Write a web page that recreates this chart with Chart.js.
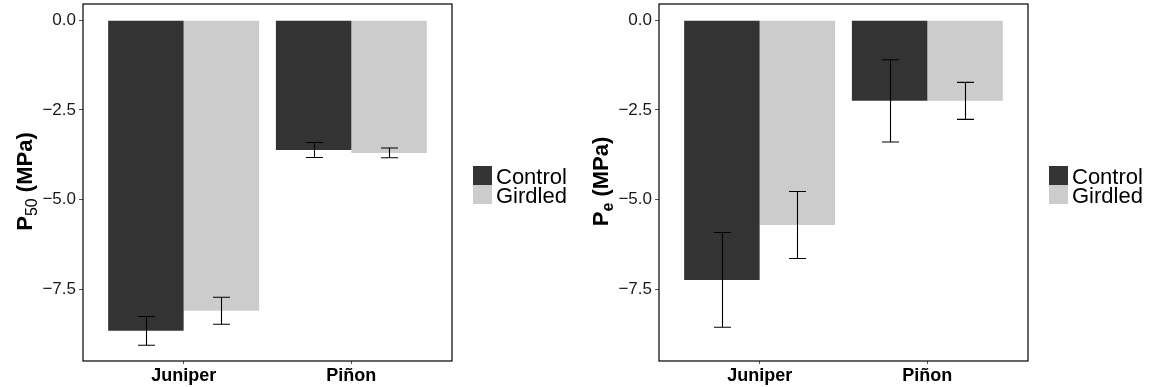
<!DOCTYPE html>
<html>
<head>
<meta charset="utf-8">
<script src="https://cdn.jsdelivr.net/npm/chart.js@4"></script>
<style>
  body { margin: 0; background: #fff; }
  .panel { position: absolute; top: 0; width: 576px; height: 387px; }
</style>
</head>
<body>
<div class="panel" style="left:0"><canvas id="p50" width="576" height="387"></canvas></div>
<div class="panel" style="left:576px"><canvas id="pe" width="576" height="387"></canvas></div>
<script>
// species and treatments
const species = ["Juniper", "Piñon"];
const treatments = ["Control", "Girdled"];
const yTicks = [-7.5, -5.0, -2.5, 0.0];

// P50 means and standard errors (MPa)
const p50Control = [-8.66, -3.62];
const p50Girdled = [-8.10, -3.70];
const p50ControlSE = [0.40, 0.21];
const p50GirdledSE = [0.375, 0.135];

// Pe means and standard errors (MPa)
const peControl = [-7.24, -2.25];
const peGirdled = [-5.71, -2.25];
const peControlSE = [1.32, 1.145];
const peGirdledSE = [0.935, 0.515];

const colors = ["#333333", "#cccccc"];
const fontFamily = "'Liberation Sans', Arial, Helvetica, sans-serif";

// error bars: mean +/- se, centred on each bar
const errorBars = {
    id: "errorBars",
    afterDatasetsDraw(chart) {
        const ctx = chart.ctx;
        const y = chart.scales.y;
        ctx.save();
        ctx.strokeStyle = "#000";
        ctx.lineWidth = 1.1;
        chart.data.datasets.forEach((ds, di) => {
            chart.getDatasetMeta(di).data.forEach((bar, i) => {
                const v = ds.data[i].y;
                const top = y.getPixelForValue(v + ds.se[i]);
                const bot = y.getPixelForValue(v - ds.se[i]);
                const cx = Math.round(bar.x) + 0.5;
                ctx.beginPath();
                ctx.moveTo(cx, top); ctx.lineTo(cx, bot);
                ctx.moveTo(cx - 8.5, top); ctx.lineTo(cx + 8.5, top);
                ctx.moveTo(cx - 8.5, bot); ctx.lineTo(cx + 8.5, bot);
                ctx.stroke();
            });
        });
        ctx.restore();
    }
};

// panel frame, rotated y title with subscript, and legend on the right
const decorations = {
    id: "decorations",
    afterDraw(chart) {
        const ctx = chart.ctx;
        const a = chart.chartArea;
        ctx.save();
        ctx.strokeStyle = "#000";
        ctx.lineWidth = 1.2;
        ctx.strokeRect(a.left, a.top, a.right - a.left, a.bottom - a.top);

        // y title
        const t = chart.options.plugins.decorations;
        const parts = [
            { text: t.main, font: "bold 22px " + fontFamily, dy: 0 },
            { text: t.sub, font: t.subFont + fontFamily, dy: 5 },
            { text: " (MPa)", font: "bold 22px " + fontFamily, dy: 0 }
        ];
        let total = 0;
        parts.forEach(p => { ctx.font = p.font; p.w = ctx.measureText(p.text).width; total += p.w; });
        ctx.translate(32, (a.top + a.bottom) / 2 - 1);
        ctx.rotate(-Math.PI / 2);
        ctx.fillStyle = "#000";
        ctx.textBaseline = "alphabetic";
        let x = -total / 2;
        parts.forEach(p => { ctx.font = p.font; ctx.fillText(p.text, x, p.dy); x += p.w; });
        ctx.setTransform(1, 0, 0, 1, 0, 0);

        // legend
        const lx = a.right + 21, ly = 166, size = 19;
        chart.data.datasets.forEach((ds, i) => {
            ctx.fillStyle = ds.backgroundColor;
            ctx.fillRect(lx, ly + i * size, size, size);
            ctx.fillStyle = "#000";
            ctx.font = "22px " + fontFamily;
            ctx.textBaseline = "alphabetic";
            ctx.fillText(ds.label, lx + 23, ly + i * size + 18);
        });
        ctx.restore();
    }
};

function makePanel(id, control, girdled, controlSE, girdledSE, main, sub, subFont) {
    const series = [control, girdled];
    const ses = [controlSE, girdledSE];
    new Chart(id, {
        type: "bar",
        data: {
            datasets: treatments.map((name, k) => ({
                label: name,
                data: species.map((s, i) => ({ x: i + 1, y: series[k][i] })),
                se: ses[k],
                backgroundColor: colors[k],
                borderWidth: 0,
                categoryPercentage: 0.9,
                barPercentage: 1.0
            }))
        },
        options: {
            responsive: false,
            animation: false,
            layout: { padding: { left: 0, right: 124, top: 4, bottom: 0 } },
            plugins: {
                legend: { display: false },
                tooltip: { enabled: false },
                decorations: { main: main, sub: sub, subFont: subFont }
            },
            scales: {
                x: {
                    type: "linear",
                    offset: false,
                    min: 0.4,
                    max: 2.6,
                    afterBuildTicks: s => { s.ticks = species.map((c, i) => ({ value: i + 1 })); },
                    afterFit: s => { s.height = 26; s.paddingLeft = 0; s.paddingRight = 0; },
                    ticks: {
                        autoSkip: false,
                        maxRotation: 0,
                        padding: 1,
                        color: "#000",
                        font: { family: fontFamily, size: 18, weight: "bold" },
                        callback: v => species[v - 1]
                    },
                    grid: { offset: false, drawOnChartArea: false, drawTicks: true, tickLength: 3, color: "#555" },
                    border: { display: false }
                },
                y: {
                    min: -9.5,
                    max: 0.45,
                    afterBuildTicks: s => { s.ticks = yTicks.map(v => ({ value: v })); },
                    afterFit: s => { s.width = 83; s.paddingTop = 0; s.paddingBottom = 0; },
                    ticks: {
                        padding: 3,
                        color: "#1a1a1a",
                        font: { family: fontFamily, size: 17 },
                        callback: v => v.toFixed(1).replace("-", "\u2212")
                    },
                    grid: { drawOnChartArea: false, drawTicks: true, tickLength: 4, color: "#555" },
                    border: { display: false }
                }
            }
        },
        plugins: [errorBars, decorations]
    });
}

makePanel("p50", p50Control, p50Girdled, p50ControlSE, p50GirdledSE, "P", "50", "16px ");
makePanel("pe", peControl, peGirdled, peControlSE, peGirdledSE, "P", "e", "bold 16px ");
</script>
</body>
</html>
